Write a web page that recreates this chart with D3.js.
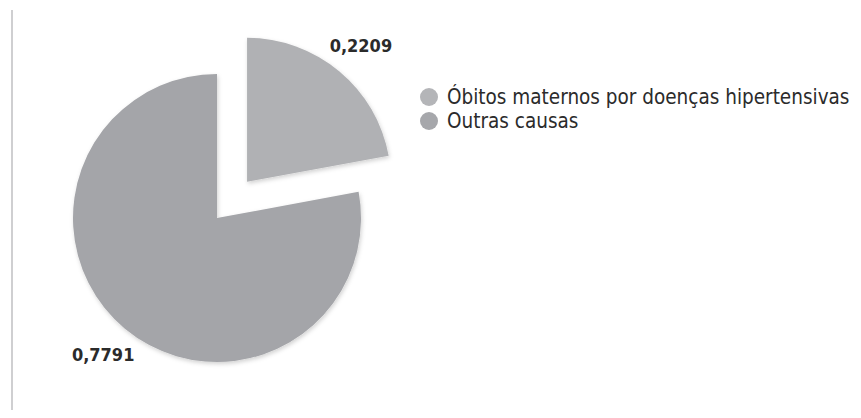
<!DOCTYPE html>
<html><head><meta charset="utf-8">
<script src="https://cdn.jsdelivr.net/npm/d3@7"></script>
<style>body{margin:0;background:#fff;}svg{display:block;}</style>
</head><body>
<svg id="c" width="861" height="418"></svg>
<script>
const categories = ["Óbitos maternos por doenças hipertensivas", "Outras causas"];
const values = [0.2209, 0.7791];
const labels = ["0,2209", "0,7791"];
const colors = ["#b0b1b4", "#a4a5a9"];
const legendColors = ["#b4b5b8", "#a6a7ab"];

const svg = d3.select("#c");
const defs = svg.append("defs");
const f = defs.append("filter").attr("id","sh").attr("x","-20%").attr("y","-20%").attr("width","140%").attr("height","140%");
f.append("feDropShadow").attr("dx",1).attr("dy",2).attr("stdDeviation",2).attr("flood-color","#000").attr("flood-opacity",0.18);

svg.append("line").attr("x1",12).attr("x2",12).attr("y1",10).attr("y2",410)
  .attr("stroke","#cfcfd1").attr("stroke-width",2);

const font = "'DejaVu Sans Condensed', 'DejaVu Sans', sans-serif";
const cx = 217, cy = 218, r = 144, explode = [47, 0], labelR = 178;
const pie = d3.pie().sort(null).value(d => d)(values);
const arc = d3.arc().innerRadius(0).outerRadius(r);
const g = svg.append("g").attr("transform", `translate(${cx},${cy})`);

pie.forEach((p, i) => {
  const mid = (p.startAngle + p.endAngle) / 2;
  const ox = Math.sin(mid) * explode[i], oy = -Math.cos(mid) * explode[i];
  const sg = g.append("g").attr("transform", `translate(${ox},${oy})`);
  sg.append("path").attr("d", arc(p)).attr("fill", colors[i]).attr("filter","url(#sh)");
  sg.append("text")
    .attr("x", Math.sin(mid) * labelR).attr("y", -Math.cos(mid) * labelR)
    .attr("text-anchor","middle").attr("dominant-baseline","central")
    .attr("font-family",font).attr("font-size",18).attr("font-weight","bold")
    .attr("fill","#2b2b2b").text(labels[i]);
});

const lg = svg.append("g").attr("transform","translate(429,97)");
categories.forEach((c, i) => {
  const row = lg.append("g").attr("transform", `translate(0,${i*24})`);
  row.append("circle").attr("r",9).attr("fill",legendColors[i]);
  row.append("text").attr("x",18).attr("y",0).attr("dominant-baseline","central")
    .attr("font-family",font).attr("font-size",20.5)
    .attr("fill","#2b2b2b").text(c);
});
</script>
</body></html>
